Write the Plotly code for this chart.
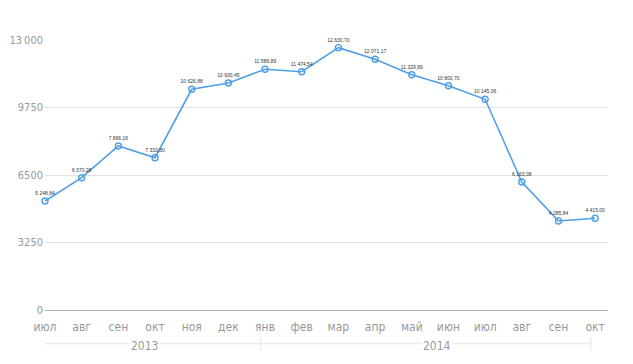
import plotly.graph_objects as go

months = ["июл", "авг", "сен", "окт", "ноя", "дек", "янв", "фев",
          "мар", "апр", "май", "июн", "июл", "авг", "сен", "окт"]
values = [5248.84, 6370.28, 7896.16, 7333.80, 10626.88, 10930.45,
          11589.89, 11474.54, 12630.70, 12071.17, 11329.89, 10800.7,
          10145.06, 6163.08, 4285.84, 4415.0]
years = ["2013", "2014"]
year_spans = [(0, 5), (6, 15)]
y_ticks = [0, 3250, 6500, 9750, 13000]
y_ticktext = ["0", "3250", "6500", "9750", "13\u2009000"]

def fmt(v):
    s = f"{v:,.2f}".replace(",", " ").replace(".", ",")
    return s

x = list(range(len(months)))
line_color = "#4f9fe6"
font_axis = "DejaVu Sans Condensed, Liberation Sans Narrow, sans-serif"

fig = go.Figure()
fig.add_trace(go.Scatter(
    x=x, y=values, mode="lines+markers+text",
    line=dict(color=line_color, width=1.6),
    marker=dict(symbol="circle-open", size=6, color=line_color,
                line=dict(width=1.4, color=line_color)),
    text=[fmt(v) for v in values], textposition="top center",
    textfont=dict(size=5, color="#333", family="Arial"),
    cliponaxis=False, hoverinfo="skip", showlegend=False,
))

shapes = []
y_br = -0.125
for i, (a, b) in enumerate(year_spans):
    x0 = a - 0.12
    x1 = b + 0.88 if i == 0 else b - 0.12
    shapes.append(dict(type="line", xref="x", yref="paper", x0=x0, x1=x1,
                       y0=y_br, y1=y_br, line=dict(color="#e3e3e3", width=1)))
for xv in [-0.12, 5.88, 14.88]:
    shapes.append(dict(type="line", xref="x", yref="paper", x0=xv, x1=xv,
                       y0=y_br - 0.025, y1=y_br + 0.025,
                       line=dict(color="#e3e3e3", width=1)))

annotations = []
for yr, (a, b) in zip(years, year_spans):
    annotations.append(dict(x=(a + b) / 2 + 0.2, y=y_br - 0.01, xref="x", yref="paper",
                            text=yr, showarrow=False, bgcolor="white",
                            font=dict(family=font_axis, size=12, color="#999"),
                            yanchor="middle", borderpad=1))

fig.update_layout(
    width=633, height=364,
    margin=dict(l=37, r=33, t=32, b=62),
    paper_bgcolor="white", plot_bgcolor="white",
    shapes=shapes, annotations=annotations,
    xaxis=dict(range=[0, 15.35], tickmode="array", tickvals=x, ticktext=months,
               showgrid=False, zeroline=False, showline=False, ticks="",
               automargin=False,
               tickfont=dict(family=font_axis, size=12, color="#999"),
               ticklabelstandoff=8),
    yaxis=dict(range=[0, 13000], tickmode="array", tickvals=y_ticks,
               ticktext=y_ticktext, showgrid=True, gridcolor="#e2e2e2",
               gridwidth=1, zeroline=True, zerolinecolor="#b5b5b5",
               zerolinewidth=1, showline=False, ticks="", automargin=False,
               tickfont=dict(family=font_axis, size=11, color="#999"),
               ticklabelstandoff=1),
)

fig.write_html("out.html")
